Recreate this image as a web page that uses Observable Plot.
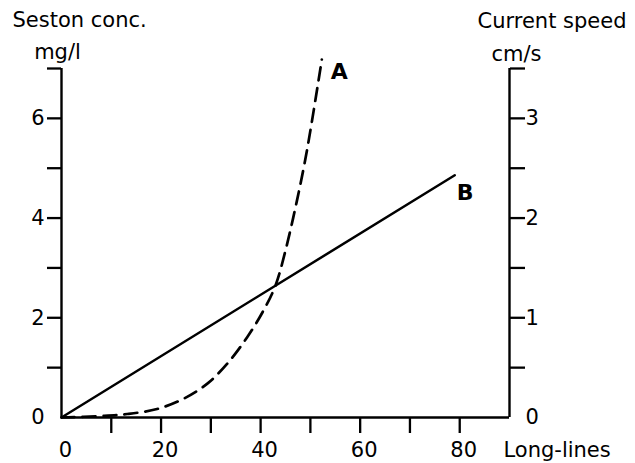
<!DOCTYPE html>
<html><head><meta charset="utf-8">
<script src="https://cdn.jsdelivr.net/npm/d3@7"></script>
<script src="https://cdn.jsdelivr.net/npm/@observablehq/plot@0.6"></script>
<style>body{margin:0;background:#fff}</style>
</head><body><div id="chart"></div>
<script>
// Curve A: seston concentration (mg/l) vs number of long-lines
const longLinesA = [0, 7.8, 13.2, 19.2, 24.6, 29.3, 33.3, 37.3, 40.6, 43.0, 45.0, 47.3, 49.3, 52.3];
const sestonA    = [0, 0.03, 0.07, 0.17, 0.38, 0.68, 1.08, 1.61, 2.15, 2.65, 3.35, 4.35, 5.35, 7.18];
// Line B: current speed (cm/s) vs number of long-lines
const longLinesB = [0, 79];
const currentB   = [0, 2.43];
// Axis ticks
const xTicks = [10, 20, 30, 40, 50, 60, 70, 80];
const xLabels = [0, 20, 40, 60, 80];
const leftTicks = [1, 2, 3, 4, 5, 6, 7];
const leftLabels = [0, 2, 4, 6];
const rightTicks = [0.5, 1, 1.5, 2, 2.5, 3, 3.5];
const rightLabels = [0, 1, 2, 3];
const mgPerCms = 2; // right axis: 1 cm/s corresponds to 2 mg/l on the left axis

const A = d3.range(longLinesA.length).map(i => ({x: longLinesA[i], y: sestonA[i]}));
const B = d3.range(longLinesB.length).map(i => ({x: longLinesB[i], y: currentB[i] * mgPerCms}));

const FS = 21;
const chart = Plot.plot({
  width: 635, height: 463,
  marginLeft: 61, marginRight: 126, marginTop: 68, marginBottom: 46,
  style: {fontFamily: "DejaVu Sans", fontSize: FS + "px", color: "#000", background: "#fff"},
  x: {domain: [0, 90]},
  y: {domain: [0, 7]},
  marks: [
    // axis lines
    Plot.ruleX([0], {y1: 0, y2: 7, strokeWidth: 2.4}),
    Plot.ruleX([90], {y1: 0, y2: 7, strokeWidth: 2.4}),
    Plot.ruleY([0], {x1: 0, x2: 90, strokeWidth: 2.4}),
    // bottom axis
    Plot.axisX({ticks: xTicks, tickSize: 16, tickFormat: () => "", strokeWidth: 2.3, label: null}),
    Plot.axisX({ticks: xLabels, tickSize: 0, tickPadding: 25, dx: 4, fontSize: FS, tickFormat: v => String(v), label: null}),
    // left axis
    Plot.axisY({anchor: "left", ticks: leftTicks, tickSize: 14, tickFormat: () => "", strokeWidth: 2.3, label: null}),
    Plot.axisY({anchor: "left", ticks: leftLabels, tickSize: 0, tickPadding: 17, fontSize: FS, tickFormat: v => String(v), label: null}),
    // right axis (cm/s)
    Plot.axisY({anchor: "right", ticks: rightTicks.map(v => v * mgPerCms), tickSize: 15, tickFormat: () => "", strokeWidth: 2.3, label: null}),
    Plot.axisY({anchor: "right", ticks: rightLabels.map(v => v * mgPerCms), tickFormat: v => String(v / mgPerCms), tickSize: 0, tickPadding: 16, fontSize: FS, label: null}),
    // data
    Plot.line(B, {x: "x", y: "y", strokeWidth: 2.5, stroke: "#000"}),
    Plot.line(A, {x: "x", y: "y", strokeWidth: 2.7, stroke: "#000", strokeDasharray: "13,8", curve: "catmull-rom"}),
    // series labels
    Plot.text(["A"], {x: 55.8, y: 6.94, fontWeight: "bold", fontSize: 22, textAnchor: "middle", lineAnchor: "middle"}),
    Plot.text(["B"], {x: 81.1, y: 4.51, fontWeight: "bold", fontSize: 22, textAnchor: "middle", lineAnchor: "middle"}),
    // axis titles
    Plot.text(["Seston conc."], {frameAnchor: "top-left", dx: -49, dy: -48, textAnchor: "start", lineAnchor: "middle", fontSize: FS}),
    Plot.text(["mg/l"], {frameAnchor: "top-left", dx: -4, dy: -16, textAnchor: "middle", lineAnchor: "middle", fontSize: FS}),
    Plot.text(["Current speed"], {frameAnchor: "top-right", dx: -32, dy: -47, textAnchor: "start", lineAnchor: "middle", fontSize: FS}),
    Plot.text(["cm/s"], {frameAnchor: "top-right", dx: 7, dy: -14, textAnchor: "middle", lineAnchor: "middle", fontSize: FS}),
    Plot.text(["Long-lines"], {frameAnchor: "bottom-right", dx: -6, dy: 33, textAnchor: "start", lineAnchor: "middle", fontSize: FS, style: "letter-spacing:1px"})
  ]
});
document.getElementById("chart").appendChild(chart);
</script>
</body></html>
